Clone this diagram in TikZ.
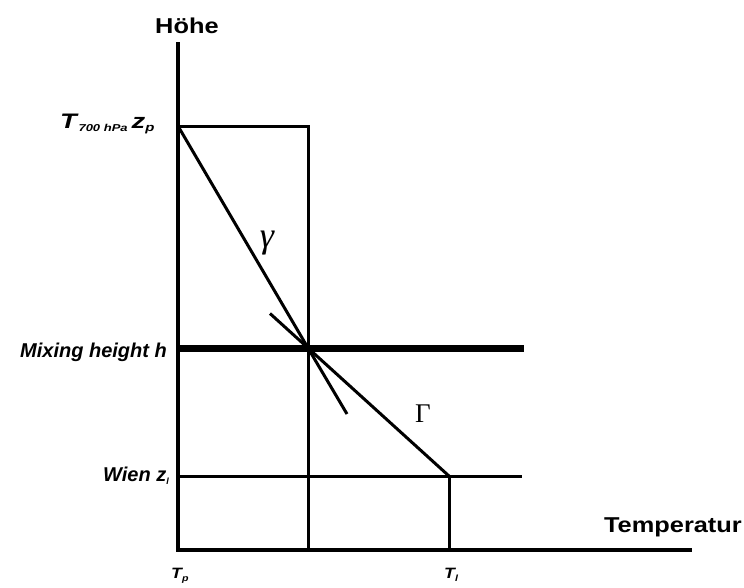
\documentclass[tikz,border=0pt]{standalone}
\usepackage{fontspec}
\setmainfont{Liberation Sans}
\newfontfamily\widesans[FakeStretch=1.18]{Liberation Sans}
\newfontfamily\widersans[FakeStretch=1.3]{Liberation Sans}
\newfontfamily\greekfont{Liberation Serif}
\begin{document}
\begin{tikzpicture}[x=1pt,y=-1pt,
  axis/.style={line width=3.4pt,line cap=butt},
  thin/.style={line width=3pt},
  thick/.style={line width=7pt},
  lbl/.style={inner sep=0pt,font=\fontsize{20}{22}\selectfont\bfseries\itshape},
  axlbl/.style={inner sep=0pt,font=\fontsize{15}{17}\selectfont\widesans\bfseries\itshape},
  ttl/.style={inner sep=0pt,font=\fontsize{21.5}{24}\selectfont\widesans\bfseries}]
\useasboundingbox (0,0) rectangle (744,587);
% points
\coordinate (O) at (178,550);
\coordinate (Ytop) at (178,42);
\coordinate (Xend) at (692,550);
\coordinate (Ztop) at (178,126);
\coordinate (Ztr) at (308,126);
\coordinate (P) at (308,348);
\coordinate (Pb) at (308,550);
\coordinate (Hl) at (178,348);
\coordinate (Hr) at (524,348);
\coordinate (Wl) at (178,476);
\coordinate (Wr) at (522,476);
\coordinate (L) at (449,476);
\coordinate (Lb) at (449,550);
\coordinate (Gext) at (270,313.5);
\coordinate (gext) at (347,414);
% axes
\draw[axis] (Ytop) -- (O) -- (Xend);
% lines
\draw[thin] (Ztop) -- (Ztr) -- (Pb);
\draw[thick] (Hl) -- (Hr);
\draw[thin] (Wl) -- (Wr);
\draw[thin] (L) -- (Lb);
\draw[thin] (Ztop) -- (P) -- (L);
\draw[thin] (Gext) -- (P) -- (gext);
% labels
\node[ttl,anchor=base west] (hoehe) at (155,33) {Höhe};
\node[ttl,anchor=base east] (temp) at (742,532) {Temperatur};
\node[inner sep=0pt,anchor=base west,font=\widersans\bfseries\itshape] (zp) at (60,128) {{\fontsize{21}{24}\selectfont T}\,{\fontsize{10}{12}\selectfont\raisebox{-3pt}{700 hPa}}\hspace{4pt}{\fontsize{21}{24}\selectfont z}{\fontsize{11.5}{14}\selectfont\raisebox{-3pt}{p}}};
\node[lbl,anchor=base west] (mix) at (20,357) {Mixing height h};
\node[lbl,anchor=base east] (wien) at (169,481) {Wien z{\fontsize{9}{12}\selectfont\raisebox{-3pt}{l}}};
\node[axlbl,anchor=base west] (tp) at (171,578) {T{\fontsize{9}{10}\selectfont\raisebox{-3pt}{p}}};
\node[axlbl,anchor=base west] (tl) at (444,578) {T{\fontsize{9}{10}\selectfont\raisebox{-3pt}{l}}};
\node[inner sep=0pt,font=\fontsize{36}{38}\selectfont\greekfont\itshape] (gamma) at (267,243) {γ};
\node[inner sep=0pt,font=\fontsize{27}{29}\selectfont\greekfont] (Gamma) at (423,414) {Γ};
\end{tikzpicture}
\end{document}
